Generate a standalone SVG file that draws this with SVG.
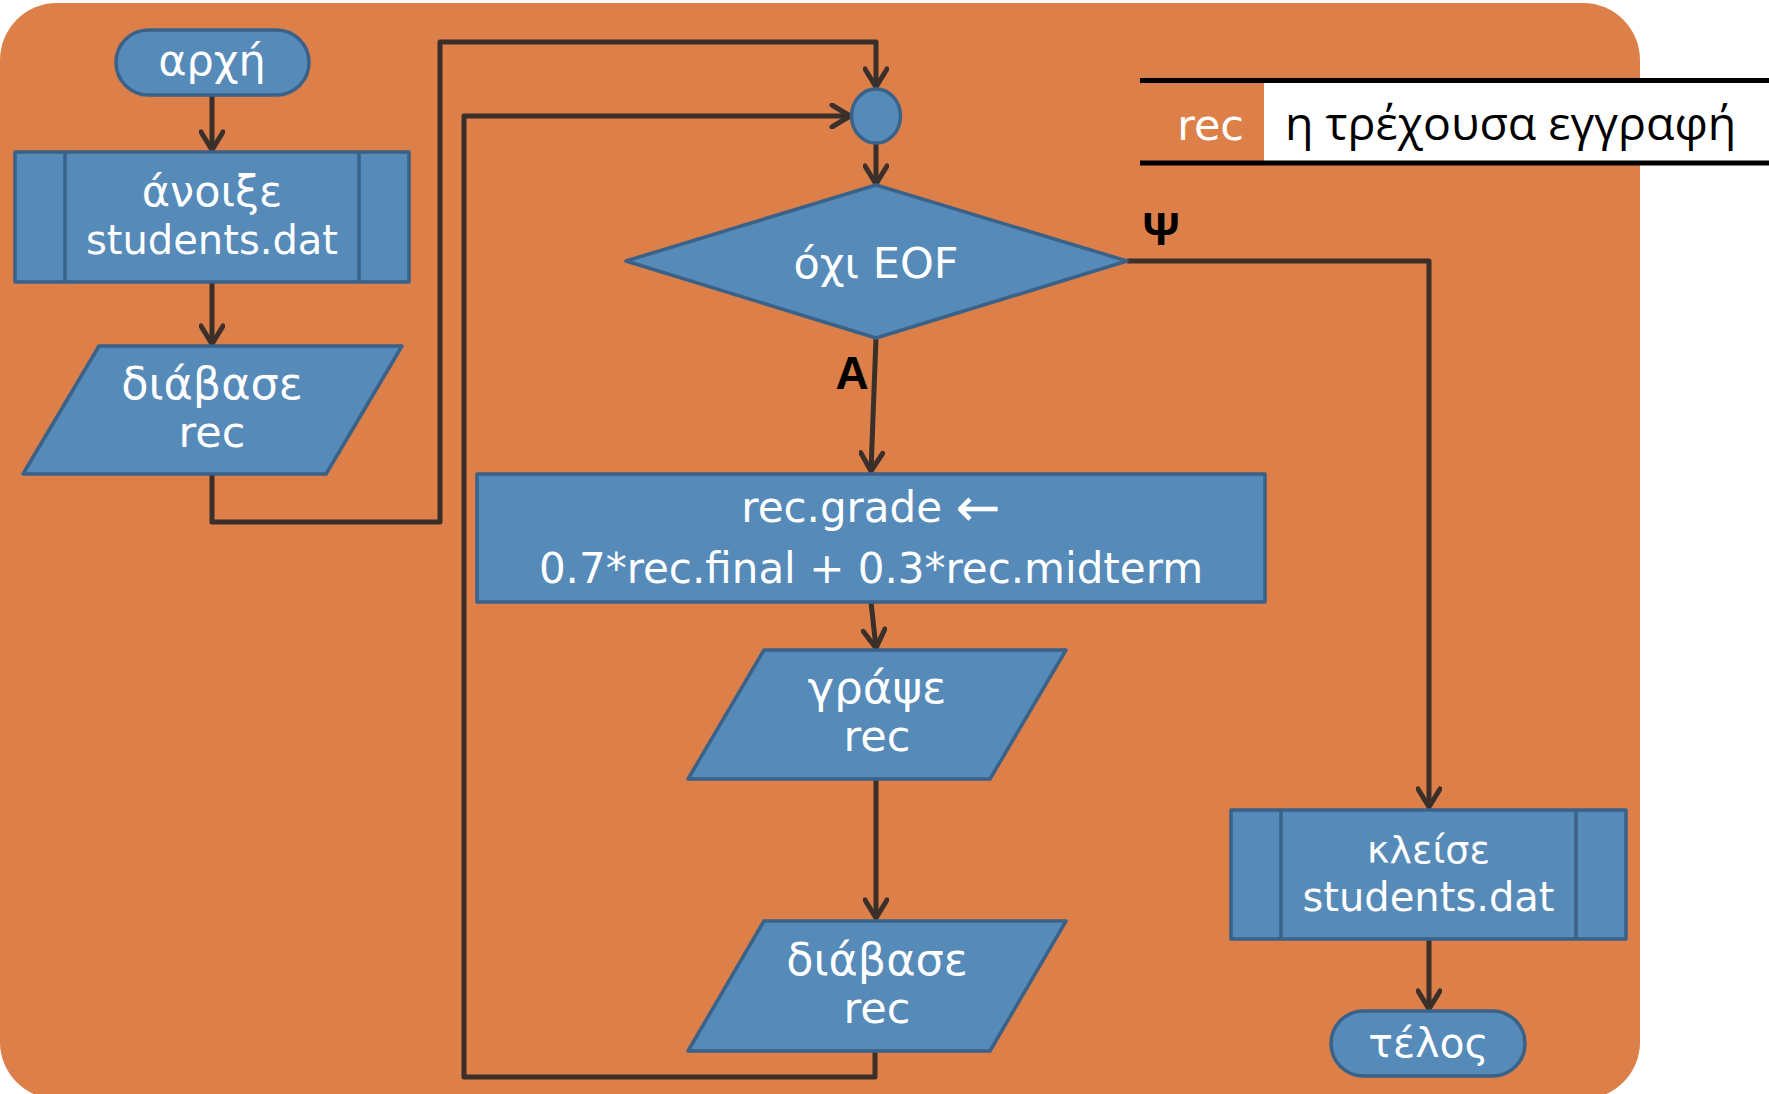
<svg xmlns="http://www.w3.org/2000/svg" width="1769" height="1094" viewBox="0 0 1769 1094">
<style>
.bg{fill:#dc7f49}
.n{fill:#558ab9;stroke:#3a6289;stroke-width:3.5;stroke-linejoin:round}
.t{font-family:"DejaVu Sans",sans-serif;font-size:40px;fill:#ffffff;text-anchor:middle}
.g{font-size:43px}
.c{fill:none;stroke:#3b2f2a;stroke-width:5;stroke-linejoin:round}
.lb{font-family:"Liberation Sans",Arial,sans-serif;font-weight:bold;font-size:46px;fill:#000000;text-anchor:middle}
</style>
<defs>
<marker id="ah" viewBox="0 0 24 26" refX="21" refY="13" markerWidth="24" markerHeight="26" markerUnits="userSpaceOnUse" orient="auto">
<path d="M3,2 L21,13 L3,24" fill="none" stroke="#3b2f2a" stroke-width="5" stroke-linecap="round" stroke-linejoin="round"/>
</marker>
</defs>
<rect class="bg" x="0" y="3" width="1640" height="1096" rx="57" ry="57"/>

<g id="legend">
<rect x="1264" y="83" width="505" height="78" fill="#ffffff"/>
<line x1="1140" y1="80.5" x2="1769" y2="80.5" stroke="#000" stroke-width="5"/>
<line x1="1140" y1="163" x2="1769" y2="163" stroke="#000" stroke-width="5"/>
<text class="t g" x="1244" y="139.5" style="text-anchor:end">rec</text>
<text x="1285" y="139.5" font-family="'Open Sans','Noto Sans',sans-serif" font-size="46.5" fill="#000">η τρέχουσα εγγραφή</text>
</g>

<g id="connectors">
<path class="c" d="M212,95 V150" marker-end="url(#ah)"/>
<path class="c" d="M212,282 V344" marker-end="url(#ah)"/>
<path class="c" d="M212,474 V522 H440 V42 H876 V87" marker-end="url(#ah)"/>
<path class="c" d="M876,143 V184" marker-end="url(#ah)"/>
<path class="c" d="M876,338 L871,471" marker-end="url(#ah)"/>
<path class="c" d="M871,602 L876,648" marker-end="url(#ah)"/>
<path class="c" d="M876,779 V918" marker-end="url(#ah)"/>
<path class="c" d="M875,1051 V1077 H464 V116 H850" marker-end="url(#ah)"/>
<path class="c" d="M1127,261 H1429 V807" marker-end="url(#ah)"/>
<path class="c" d="M1429,939 V1009" marker-end="url(#ah)"/>
<text class="lb" x="1161" y="245">Ψ</text>
<text class="lb" x="852" y="389">A</text>
</g>

<g id="start">
<rect class="n" x="116" y="30" width="193" height="65" rx="32.5"/>
<text class="t g" x="212" y="75">αρχή</text>
</g>

<g id="open">
<rect class="n" x="15" y="152" width="394" height="130"/>
<line class="n" x1="65" y1="152" x2="65" y2="282"/>
<line class="n" x1="359" y1="152" x2="359" y2="282"/>
<text class="t g" x="212" y="205.5">άνοιξε</text>
<text class="t" x="212" y="253.5">students.dat</text>
</g>

<g id="read1">
<polygon class="n" points="99,346 402,346 326,474 23,474"/>
<text class="t g" x="212" y="398.5" style="font-size:44.5px">διάβασε</text>
<text class="t g" x="212" y="446.5">rec</text>
</g>

<g id="junction">
<ellipse class="n" cx="876" cy="116" rx="24.5" ry="27"/>
</g>

<g id="decision">
<polygon class="n" points="876,185 1127,261 876,338 626,261"/>
<text class="t g" x="876" y="278">όχι EOF</text>
</g>

<g id="calc">
<rect class="n" x="477" y="474" width="788" height="128"/>
<text class="t" x="871" y="522" style="font-size:42px">rec.grade <tspan font-size="54" dy="4">←</tspan></text>
<text class="t" x="871" y="583" style="font-size:42px">0.7*rec.final + 0.3*rec.midterm</text>
</g>

<g id="write">
<polygon class="n" points="764,650 1066,650 990,779 688,779"/>
<text class="t g" x="877" y="703" style="font-size:45px">γράψε</text>
<text class="t g" x="877" y="751">rec</text>
</g>

<g id="read2">
<polygon class="n" points="764,921 1066,921 990,1051 688,1051"/>
<text class="t g" x="877" y="974.5" style="font-size:44.5px">διάβασε</text>
<text class="t g" x="877" y="1022.5">rec</text>
</g>

<g id="close">
<rect class="n" x="1231" y="810" width="395" height="129"/>
<line class="n" x1="1281" y1="810" x2="1281" y2="939"/>
<line class="n" x1="1576" y1="810" x2="1576" y2="939"/>
<text class="t" x="1428.5" y="863" style="font-size:38px">κλείσε</text>
<text class="t" x="1428.5" y="911">students.dat</text>
</g>

<g id="end">
<rect class="n" x="1331" y="1011" width="194" height="65" rx="32.5"/>
<text class="t" x="1428.5" y="1056.5" style="font-size:41px">τέλος</text>
</g>
</svg>
